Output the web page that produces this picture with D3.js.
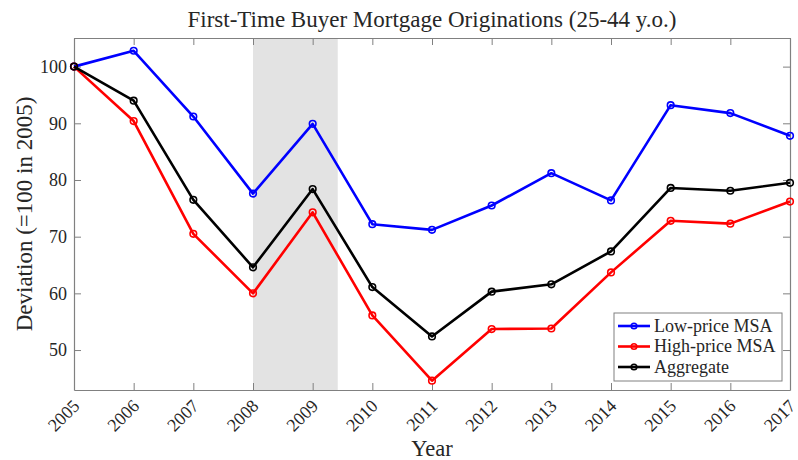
<!DOCTYPE html>
<html>
<head>
<meta charset="utf-8">
<script src="https://cdn.jsdelivr.net/npm/d3@7"></script>
<style>
  body { margin: 0; background: #fff; }
  text { font-family: "Liberation Serif", "DejaVu Serif", serif; fill: #262626; }
</style>
</head>
<body>
<svg id="chart" width="798" height="460"></svg>
<script>
// Data
var years = [2005, 2006, 2007, 2008, 2009, 2010, 2011, 2012, 2013, 2014, 2015, 2016, 2017];
var lowPrice = [100, 102.8, 91.2, 77.6, 89.9, 72.2, 71.2, 75.5, 81.2, 76.4, 93.2, 91.8, 87.8];
var highPrice = [100, 90.4, 70.5, 60.0, 74.3, 56.1, 44.6, 53.7, 53.8, 63.7, 72.8, 72.3, 76.2];
var aggregate = [100, 94.0, 76.5, 64.6, 78.4, 61.1, 52.4, 60.3, 61.6, 67.4, 78.6, 78.1, 79.5];
var seriesNames = ["Low-price MSA", "High-price MSA", "Aggregate"];
var seriesColors = ["#0000ff", "#ff0000", "#000000"];
var yTicks = [50, 60, 70, 80, 90, 100];
var recession = [2008, 2009.42];

var svg = d3.select("#chart");
var margin = {top: 38, right: 8, bottom: 70, left: 74};
var width = 798 - margin.left - margin.right;
var height = 460 - margin.top - margin.bottom;

var x = d3.scaleLinear().domain([2005, 2017]).range([0, width]);
var y = d3.scaleLinear().domain([42.95, 105.05]).range([height, 0]);

var g = svg.append("g")
  .attr("transform", "translate(" + margin.left + "," + margin.top + ")");

// recession band
g.append("rect")
  .attr("x", x(recession[0]))
  .attr("y", 0)
  .attr("width", x(recession[1]) - x(recession[0]))
  .attr("height", height)
  .attr("fill", "#e3e3e3");

// axes (box with inward ticks)
var axisColor = "#808080";
function styleAxis(sel) {
  sel.select(".domain").attr("stroke", axisColor).attr("stroke-width", 1.2);
  sel.selectAll(".tick line").attr("stroke", axisColor).attr("stroke-width", 1);
}

var xBottom = g.append("g")
  .attr("transform", "translate(0," + height + ")")
  .call(d3.axisBottom(x).tickValues(years).tickSize(-7).tickSizeOuter(0).tickFormat(d3.format("d")));
styleAxis(xBottom);
xBottom.selectAll(".tick text")
  .attr("font-size", 18)
  .attr("text-anchor", "end")
  .attr("dy", 0)
  .attr("transform", "translate(4,15) rotate(-45)");

var xTop = g.append("g")
  .call(d3.axisTop(x).tickValues(years).tickSize(-7).tickSizeOuter(0).tickFormat(""));
styleAxis(xTop);

var yLeft = g.append("g")
  .call(d3.axisLeft(y).tickValues(yTicks).tickSize(-7).tickSizeOuter(0).tickPadding(7));
styleAxis(yLeft);
yLeft.selectAll(".tick text").attr("font-size", 18);

var yRight = g.append("g")
  .attr("transform", "translate(" + width + ",0)")
  .call(d3.axisRight(y).tickValues(yTicks).tickSize(-7).tickSizeOuter(0).tickFormat(""));
styleAxis(yRight);

// lines
var line = d3.line()
  .x(function(d, i) { return x(years[i]); })
  .y(function(d) { return y(d); });

var allSeries = [lowPrice, highPrice, aggregate];
allSeries.forEach(function(vals, k) {
  g.append("path")
    .datum(vals)
    .attr("fill", "none")
    .attr("stroke", seriesColors[k])
    .attr("stroke-width", 2.6)
    .attr("stroke-linejoin", "round")
    .attr("d", line);
  g.selectAll(".m" + k)
    .data(vals)
    .enter().append("circle")
    .attr("class", "m" + k)
    .attr("cx", function(d, i) { return x(years[i]); })
    .attr("cy", function(d) { return y(d); })
    .attr("r", 3.3)
    .attr("fill", "none")
    .attr("stroke", seriesColors[k])
    .attr("stroke-width", 1.6);
});

// legend
var legend = g.append("g").attr("transform", "translate(540,275)");
legend.append("rect")
  .attr("width", 168).attr("height", 68)
  .attr("fill", "#fff").attr("stroke", axisColor).attr("stroke-width", 1);
seriesNames.forEach(function(name, k) {
  var ly = 13 + k * 20.5;
  legend.append("line")
    .attr("x1", 4).attr("x2", 36).attr("y1", ly).attr("y2", ly)
    .attr("stroke", seriesColors[k]).attr("stroke-width", 2.6);
  legend.append("circle")
    .attr("cx", 20).attr("cy", ly).attr("r", 2.8)
    .attr("fill", "none").attr("stroke", seriesColors[k]).attr("stroke-width", 1.6);
  legend.append("text")
    .attr("x", 40).attr("y", ly + 5.5)
    .attr("font-size", 18)
    .text(name);
});

// titles
svg.append("text")
  .attr("x", margin.left + width / 2).attr("y", 27)
  .attr("text-anchor", "middle").attr("font-size", 23)
  .text("First-Time Buyer Mortgage Originations (25-44 y.o.)");

svg.append("text")
  .attr("x", margin.left + width / 2).attr("y", 456)
  .attr("text-anchor", "middle").attr("font-size", 22.5)
  .text("Year");

svg.append("text")
  .attr("transform", "translate(32," + (margin.top + height / 2) + ") rotate(-90)")
  .attr("text-anchor", "middle").attr("font-size", 23)
  .text("Deviation (=100 in 2005)");
</script>
</body>
</html>
